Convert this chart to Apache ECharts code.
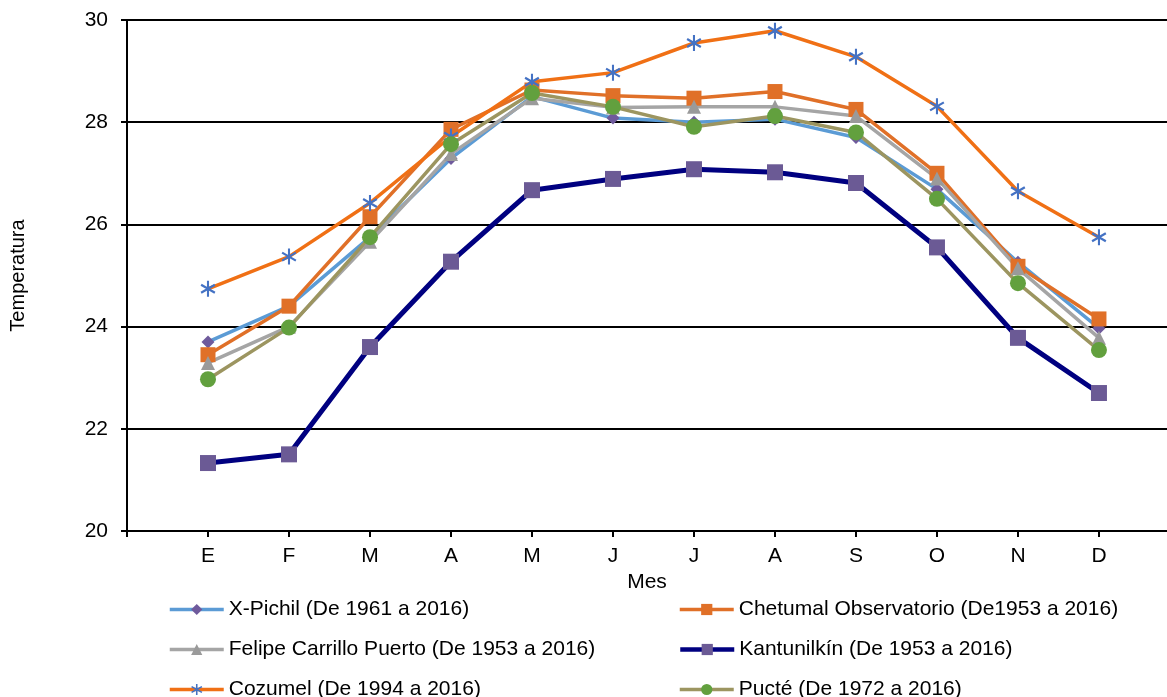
<!DOCTYPE html>
<html>
<head>
<meta charset="utf-8">
<script src="https://cdn.jsdelivr.net/npm/echarts@6/dist/echarts.min.js"></script>
<style>
  html, body { margin: 0; padding: 0; background: #fff; }
  #chart { width: 1167px; height: 697px; }
</style>
</head>
<body>
<div id="chart"></div>
<script>
// meses: E = 1 ... D = 12 sobre un eje de valores (el original deja un hueco a la izquierda)
const months = ['E', 'F', 'M', 'A', 'M', 'J', 'J', 'A', 'S', 'O', 'N', 'D'];
const yTicks = [20, 22, 24, 26, 28, 30];

const xPichil     = [23.70, 24.40, 25.75, 27.29, 28.50, 28.08, 28.00, 28.06, 27.70, 26.69, 25.26, 23.97];
const chetumal    = [23.45, 24.40, 26.15, 27.86, 28.63, 28.52, 28.47, 28.60, 28.25, 27.00, 25.18, 24.15];
const felipe      = [23.29, 24.00, 25.66, 27.38, 28.47, 28.29, 28.30, 28.30, 28.12, 26.90, 25.14, 23.78];
const kantunilkin = [21.33, 21.50, 23.60, 25.27, 26.67, 26.89, 27.08, 27.02, 26.81, 25.55, 23.78, 22.70];
const cozumel     = [24.74, 25.37, 26.42, 27.72, 28.79, 28.97, 29.55, 29.79, 29.28, 28.31, 26.65, 25.75];
const pucte       = [22.97, 23.98, 25.75, 27.57, 28.57, 28.30, 27.91, 28.12, 27.80, 26.50, 24.85, 23.54];

const names = [
  'X-Pichil (De 1961 a 2016)',
  'Chetumal Observatorio (De1953 a 2016)',
  'Felipe Carrillo Puerto (De 1953 a 2016)',
  'Kantunilkín (De 1953 a 2016)',
  'Cozumel (De 1994 a 2016)',
  'Pucté (De 1972 a 2016)'
];

const monthPos = months.map((m, i) => i + 1);
const toPoints = arr => arr.map((v, i) => [monthPos[i], v]);

const star = 'path://M4.35 0 L5.65 0 L5.65 10 L4.35 10 Z M1.05 1.9 L9.65 6.9 L8.95 8.1 L0.35 3.1 Z M0.35 6.9 L8.95 1.9 L9.65 3.1 L1.05 8.1 Z';
const font = 'Liberation Sans';
const fs = 21;

function line(name, data, lineColor, marker, markerColor, size, width) {
  return {
    name: name,
    type: 'line',
    data: toPoints(data),
    symbol: marker,
    symbolSize: size,
    symbolKeepAspect: true,
    showAllSymbol: true,
    lineStyle: { color: lineColor, width: width || 3 },
    itemStyle: { color: markerColor, borderWidth: 0 },
    emphasis: { disabled: true },
    animation: false
  };
}

// una leyenda por entrada, en dos columnas
const legendSpots = [
  [168, 599], [678, 599],
  [168, 639], [678, 639],
  [168, 679], [678, 679]
];
const legends = names.map((n, i) => ({
  left: legendSpots[i][0],
  top: legendSpots[i][1],
  padding: 0,
  itemWidth: 54,
  itemHeight: 14,
  itemGap: 4,
  lineStyle: { width: i === 3 ? 4.5 : 3.5 },
  textStyle: { color: '#000', fontSize: fs, fontFamily: font },
  data: [n]
}));

const chart = echarts.init(document.getElementById('chart'));
chart.setOption({
  animation: false,
  textStyle: { fontFamily: font },
  grid: { left: 127, top: 20, bottom: 166, right: 0 },
  xAxis: {
    type: 'value',
    min: 0,
    max: 12.84,
    interval: 1,
    name: 'Mes',
    nameLocation: 'middle',
    nameGap: 39,
    nameTextStyle: { color: '#000', fontSize: fs, fontFamily: font },
    axisLine: { lineStyle: { color: '#000', width: 2 } },
    axisTick: { show: true, length: 6, customValues: [0].concat(monthPos), lineStyle: { color: '#000', width: 2 } },
    axisLabel: {
      color: '#000', fontSize: fs, margin: 15, fontFamily: font,
      customValues: monthPos,
      formatter: v => months[Math.round(v) - 1] || ''
    },
    splitLine: { show: false }
  },
  yAxis: {
    type: 'value',
    min: yTicks[0],
    max: yTicks[yTicks.length - 1],
    interval: 2,
    name: 'Temperatura',
    nameLocation: 'middle',
    nameGap: 99,
    nameTextStyle: { color: '#000', fontSize: 20, fontFamily: font },
    axisLine: { show: true, lineStyle: { color: '#000', width: 2 } },
    axisTick: { show: true, length: 6, lineStyle: { color: '#000', width: 2 } },
    axisLabel: { color: '#000', fontSize: fs, margin: 19, fontFamily: font },
    splitLine: { show: true, lineStyle: { color: '#000', width: 2 } }
  },
  legend: legends,
  series: [
    line(names[0], xPichil, '#5B9BD5', 'diamond', '#6F5A9C', 13, 3.5),
    line(names[1], chetumal, '#E07028', 'rect', '#E07028', 15, 3.5),
    line(names[2], felipe, '#A5A5A5', 'triangle', '#9A9A9A', 14, 3.5),
    line(names[3], kantunilkin, '#000080', 'rect', '#6B5A95', 16, 5),
    line(names[4], cozumel, '#F07015', star, '#4472C4', 16, 3.5),
    line(names[5], pucte, '#9C9560', 'circle', '#62A03E', 16, 3.5)
  ]
});
</script>
</body>
</html>
